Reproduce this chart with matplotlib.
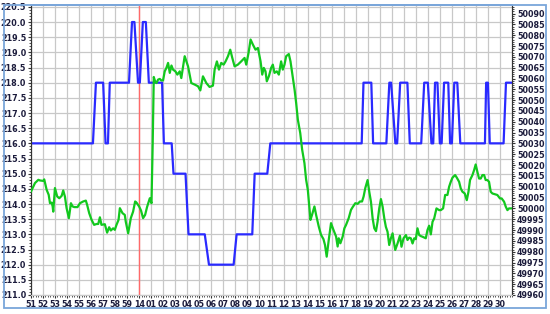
import matplotlib
matplotlib.use("Agg")
import matplotlib.pyplot as plt
from matplotlib.patches import Rectangle
from matplotlib.ticker import MultipleLocator

# ---- data ----
x_labels = ['51', '52', '53', '54', '55', '56', '57', '58', '59', '14'] + ['%02d' % i for i in range(1, 31)]

blue_t = [0, 5.15, 5.4, 6.0, 6.2, 6.4, 6.55, 8.15, 8.4, 8.6,
          8.9, 9.05, 9.3, 9.55, 9.8, 10.9, 11.05, 11.7, 11.85, 12.85,
          13.1, 14.45, 14.8, 16.85, 17.1, 18.4, 18.6, 19.65, 19.9, 27.5,
          27.65, 28.3, 28.45, 29.55, 29.8, 29.95, 30.3, 30.45, 30.7, 31.3,
          31.5, 32.45, 32.7, 33.0, 33.3, 33.45, 33.6, 33.8, 34.0, 34.15,
          34.35, 34.7, 34.85, 35.0, 35.2, 35.45, 35.7, 37.75, 37.85, 38.0,
          38.15, 39.3, 39.5, 40]
blue_v = [216, 216, 218, 218, 216, 216, 218, 218, 220, 220,
          218, 218, 220, 220, 218, 218, 216, 216, 215, 215,
          213, 213, 212, 212, 213, 213, 215, 215, 216, 216,
          218, 218, 216, 216, 218, 218, 216, 216, 218, 218,
          216, 216, 218, 218, 216, 216, 218, 218, 216, 216,
          218, 218, 216, 216, 218, 218, 216, 216, 218, 218,
          216, 216, 218, 218]

green_t = [0.0, 0.33, 0.61, 0.75, 1.02, 1.1, 1.3, 1.47, 1.58, 1.72,
           1.8, 1.85, 1.99, 2.18, 2.35, 2.55, 2.68, 2.82, 2.96, 3.15,
           3.32, 3.46, 3.6, 3.87, 4.07, 4.34, 4.56, 4.67, 4.84, 5.04,
           5.25, 5.45, 5.59, 5.73, 5.86, 6.14, 6.33, 6.5, 6.64, 6.83,
           6.97, 7.11, 7.28, 7.39, 7.61, 7.8, 7.88, 8.08, 8.3, 8.49,
           8.66, 8.77, 8.99, 9.15, 9.32, 9.49, 9.65, 9.88, 10.02, 10.12,
           10.21, 10.32, 10.43, 10.57, 10.71, 10.84, 10.98, 11.12, 11.26, 11.4,
           11.54, 11.68, 11.81, 12.01, 12.17, 12.37, 12.5, 12.78, 12.92, 13.06,
           13.33, 13.61, 13.89, 14.08, 14.3, 14.58, 14.85, 15.13, 15.27, 15.46,
           15.63, 15.82, 16.02, 16.18, 16.38, 16.57, 16.74, 16.93, 17.2, 17.48,
           17.76, 17.9, 18.09, 18.26, 18.45, 18.67, 18.87, 19.09, 19.23, 19.36,
           19.5, 19.61, 19.78, 19.97, 20.11, 20.25, 20.44, 20.61, 20.8, 20.94,
           21.08, 21.22, 21.44, 21.58, 21.78, 21.92, 22.05, 22.19, 22.39, 22.55,
           22.74, 22.88, 23.02, 23.15, 23.24, 23.37, 23.57, 23.71, 23.93, 24.12,
           24.32, 24.45, 24.59, 24.76, 24.95, 25.15, 25.37, 25.5, 25.59, 25.73,
           25.92, 26.06, 26.2, 26.42, 26.61, 26.75, 26.97, 27.16, 27.36, 27.53,
           27.66, 27.8, 27.99, 28.13, 28.27, 28.41, 28.55, 28.69, 28.82, 28.96,
           29.1, 29.24, 29.38, 29.51, 29.65, 29.79, 29.93, 30.07, 30.15, 30.29,
           30.48, 30.68, 30.81, 30.98, 31.18, 31.31, 31.45, 31.59, 31.73, 31.87,
           32.0, 32.14, 32.28, 32.42, 32.56, 32.83, 32.97, 33.11, 33.25, 33.39,
           33.53, 33.72, 33.94, 34.08, 34.27, 34.44, 34.63, 34.77, 34.91, 35.05,
           35.27, 35.41, 35.6, 35.74, 35.88, 36.07, 36.24, 36.38, 36.51, 36.71,
           36.85, 36.98, 37.12, 37.26, 37.4, 37.54, 37.68, 37.81, 37.95, 38.09,
           38.23, 38.37, 38.59, 38.78, 39.0, 39.14, 39.34, 39.48, 39.62, 39.75,
           39.89, 40.0]
green_v = [50007.8, 50011.7, 50013.2, 50012.9, 50012.7, 50013.4, 50008.6, 50006.3, 50002.4, 50002.7,
           50000.9, 49998.5, 50009.4, 50005.5, 50004.7, 50005.8, 50008.3, 50005.5, 50000.1, 49995.5,
           50002.4, 50000.9, 50000.6, 50000.6, 50002.4, 50003.2, 50003.6, 50001.6, 49997.8, 49994.7,
           49992.4, 49992.8, 49992.8, 49995.9, 49992.4, 49992.7, 49988.8, 49991.3, 49989.8, 49990.8,
           49990.1, 49992.4, 49994.7, 50000.1, 49997.8, 49997.0, 49993.9, 49988.5, 49995.5, 49998.5,
           50003.2, 50002.7, 50000.9, 49999.0, 49995.5, 49997.0, 50000.6, 50004.7, 50002.4, 50030.0,
           50060.7, 50058.7, 50057.9, 50059.5, 50059.8, 50059.1, 50059.1, 50063.3, 50064.9, 50067.2,
           50062.6, 50066.0, 50064.1, 50063.3, 50061.8, 50063.3, 50060.2, 50070.3, 50067.9, 50065.6,
           50057.9, 50057.2, 50056.4, 50054.5, 50061.0, 50057.9, 50056.1, 50056.7, 50064.1, 50067.9,
           50064.1, 50067.2, 50066.4, 50067.9, 50070.3, 50073.3, 50069.5, 50065.6, 50066.4, 50067.9,
           50069.5, 50066.4, 50071.8, 50078.0, 50075.7, 50073.3, 50074.1, 50067.9, 50061.8, 50064.9,
           50063.3, 50058.7, 50061.0, 50064.9, 50066.4, 50062.6, 50063.3, 50061.8, 50067.9, 50064.1,
           50066.4, 50070.3, 50071.3, 50067.9, 50060.2, 50054.8, 50048.7, 50041.0, 50034.8, 50027.1,
           50020.9, 50013.2, 50008.6, 50000.1, 49994.7, 49997.0, 50000.9, 49997.0, 49991.6, 49987.8,
           49985.8, 49983.1, 49977.7, 49985.4, 49993.2, 49990.1, 49987.0, 49982.4, 49986.2, 49983.9,
           49987.0, 49990.8, 49992.4, 49995.5, 49999.3, 50000.6, 50002.4, 50002.1, 50003.2, 50003.2,
           50005.5, 50009.4, 50013.1, 50007.7, 50003.1, 49995.4, 49990.8, 49989.5, 49993.8, 50000.0,
           50004.3, 50000.8, 49995.4, 49991.5, 49989.2, 49983.1, 49986.2, 49988.5, 49985.4, 49980.8,
           49983.8, 49987.4, 49982.3, 49986.2, 49987.7, 49985.4, 49986.5, 49986.2, 49983.8, 49986.2,
           49985.8, 49990.8, 49987.7, 49987.2, 49986.9, 49986.2, 49990.0, 49992.0, 49988.0, 49993.8,
           49995.4, 50000.0, 49999.2, 49999.2, 50000.0, 50006.2, 50006.2, 50010.0, 50012.3, 50014.2,
           50015.4, 50014.2, 50012.3, 50009.2, 50007.7, 50006.9, 50003.8, 50007.7, 50013.1, 50015.4,
           50017.7, 50020.3, 50016.9, 50013.8, 50013.8, 50015.4, 50015.4, 50013.1, 50013.1, 50012.3,
           50007.7, 50006.9, 50006.5, 50006.2, 50004.6, 50004.6, 50003.1, 50000.8, 49999.2, 50000.0,
           50000.0, 50000.0]

left_ticks = [211.0 + 0.5 * i for i in range(20)]
right_ticks = [49960 + 5 * i for i in range(27)]
marker_t = 9

# ---- figure ----
W, H = 550, 314
fig = plt.figure(figsize=(W / 100, H / 100), dpi=100)
fig.patch.set_facecolor('white')
L, R, T, B = 31, 512, 5, 295
ax = fig.add_axes([L / W, (H - B) / H, (R - L) / W, (B - T) / H])
ax2 = ax.twinx()

lab_font = dict(family='DejaVu Sans', size=5.8, weight='bold')
lab_col = '#1c1c3c'

ax.set_xlim(0, 40)
ax.set_ylim(211.0, 211.0 + (B - T) / 30.33)
ax2.set_ylim(49960, 49960 + (B - T) / 2.165)

ax.set_xticks(range(len(x_labels)))
ax.set_xticklabels(x_labels, fontdict=lab_font, color=lab_col)
ax.set_yticks(left_ticks)
ax.set_yticklabels(['%.1f' % v for v in left_ticks], fontdict=lab_font, color=lab_col)
ax2.set_yticks(right_ticks)
ax2.set_yticklabels(['%d' % v for v in right_ticks], fontdict=lab_font, color=lab_col)

ax.xaxis.set_minor_locator(MultipleLocator(0.2))
ax.yaxis.set_minor_locator(MultipleLocator(0.1))
ax2.yaxis.set_minor_locator(MultipleLocator(1))

ax.tick_params(axis='both', which='major', length=2.5, width=0.8, color='#333333', pad=1)
ax.tick_params(axis='both', which='minor', length=1.5, width=0.6, color='#333333')
ax2.tick_params(axis='y', which='major', length=2.5, width=0.8, color='#333333', pad=1)
ax2.tick_params(axis='y', which='minor', length=1.5, width=0.6, color='#333333')

ax.grid(True, which='major', color='#c8c8c8', linewidth=0.9)
ax.set_axisbelow(True)

for a in (ax, ax2):
    a.spines['top'].set_color('#7aa6da')
    a.spines['top'].set_linewidth(1.2)
    a.spines['left'].set_color('#333333')
    a.spines['right'].set_color('#333333')
    a.spines['bottom'].set_color('#c8c8c8')
    for s in ('left', 'right', 'bottom'):
        a.spines[s].set_linewidth(0.8)

ax.axvline(marker_t, color='#ff6a6a', linewidth=1.0, zorder=1.5)
ax.plot(blue_t, blue_v, color='#2a2aff', linewidth=1.6, zorder=3)
ax2.plot(green_t, green_v, color='#12c81e', linewidth=1.6, zorder=3)

# outer frame
fig.add_artist(Rectangle((4 / W, (H - 308) / H), (546 - 4) / W, (308 - 5) / H,
                         transform=fig.transFigure, fill=False,
                         edgecolor='#7aa6da', linewidth=1.3))

fig.savefig('out.png', dpi=100)
